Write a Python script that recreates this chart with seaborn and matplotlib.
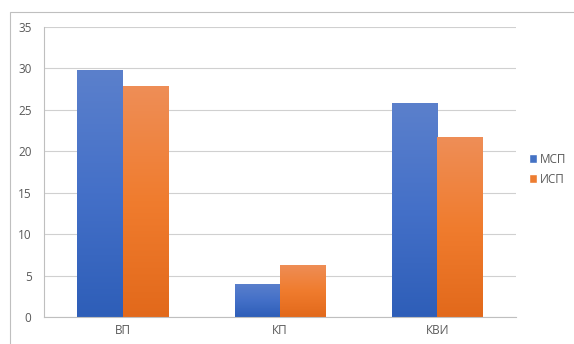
import numpy as np
import pandas as pd
import matplotlib
matplotlib.use('Agg')
from matplotlib import pyplot as plt
from matplotlib.colors import LinearSegmentedColormap
from matplotlib.patches import Rectangle
import seaborn as sns

# Chart data
categories = ['ВП', 'КП', 'КВИ']
series_names = ['МСП', 'ИСП']
msp_values = [29.8, 4.0, 25.8]
isp_values = [27.9, 6.3, 21.7]

df = pd.DataFrame({
    'category': categories * 2,
    'series': [series_names[0]] * 3 + [series_names[1]] * 3,
    'value': msp_values + isp_values,
})

sns.set_style('white')
plt.rcParams['font.family'] = ['Open Sans', 'DejaVu Sans']

fig = plt.figure(figsize=(5.74, 3.44), dpi=100)
ax = fig.add_axes([44 / 574, 1 - 317 / 344, (516 - 44) / 574, (317 - 27) / 344])

palette = {'МСП': '#4472C4', 'ИСП': '#ED7D31'}
sns.barplot(data=df, x='category', y='value', hue='series', palette=palette,
            width=0.575, ax=ax, legend=True, saturation=1)

# gradient fill for each bar (lighter at the top, like the Excel chart)
grads = {
    '#4472C4': LinearSegmentedColormap.from_list('b', ['#2E5EB8', '#4470C8', '#5B80CC']),
    '#ED7D31': LinearSegmentedColormap.from_list('o', ['#E2691B', '#F07C2E', '#EE8E57']),
}
for cont, col in zip(ax.containers, ['#4472C4', '#ED7D31']):
    for bar in cont:
        x0, y0 = bar.get_x(), bar.get_y()
        w, h = bar.get_width(), bar.get_height()
        grad = np.linspace(0, 1, 256).reshape(-1, 1)
        im = ax.imshow(grad, cmap=grads[col], origin='lower', aspect='auto',
                       extent=[x0, x0 + w, y0, y0 + h], zorder=bar.get_zorder())
        im.set_clip_path(bar)
        bar.set_facecolor('none')
        bar.set_edgecolor('none')

ax.set_xlim(-0.5, 2.5)
ax.set_ylim(0, 35)
ax.set_yticks(range(0, 36, 5))
ax.set_xlabel('')
ax.set_ylabel('')
ax.grid(axis='y', color='#D0D0D0', lw=0.8)
ax.set_axisbelow(True)

for s in ['top', 'right']:
    ax.spines[s].set_visible(False)
for s in ['left', 'bottom']:
    ax.spines[s].set_color('#BFBFBF')
    ax.spines[s].set_linewidth(0.8)

ax.tick_params(axis='y', length=4, color='#D0D0D0', labelsize=8.5, labelcolor='#595959', pad=5)
ax.tick_params(axis='x', length=0, labelsize=8.5, labelcolor='#595959', pad=5)
# category boundary ticks
ax.set_xticks([-0.5, 0.5, 1.5, 2.5], minor=True)
ax.tick_params(axis='x', which='minor', length=4, color='#BFBFBF', direction='out')

handles, labels = ax.get_legend_handles_labels()
ax.legend(handles, labels, loc='center left', bbox_to_anchor=(1.01, 0.51),
          frameon=False, fontsize=8.5, handlelength=0.7, handleheight=0.7,
          handletextpad=0.25, labelspacing=0.6, labelcolor='#595959',
          borderpad=0.2)

# outer chart border
fig.patches.append(Rectangle((10 / 574, -0.2), 1.0, 1.2 - 12 / 344,
                             transform=fig.transFigure, fill=False,
                             edgecolor='#BFBFBF', lw=0.8))

fig.savefig('out.png', dpi=100)
